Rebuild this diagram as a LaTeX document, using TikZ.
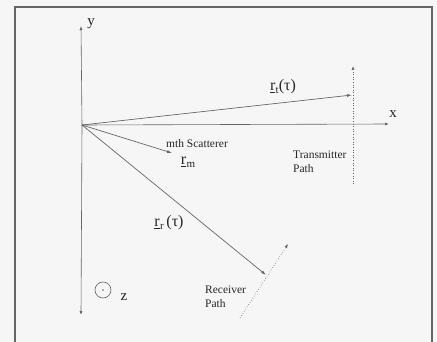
\documentclass[tikz,border=0pt]{standalone}
\usepackage{fontspec}
\setmainfont{Liberation Serif}
\usepackage{tikz}
\usetikzlibrary{arrows.meta, positioning}
\definecolor{scanBg}{HTML}{F5F6F5}
\definecolor{scanLine}{HTML}{666666}
\definecolor{scanInk}{HTML}{262626}
\newcommand{\rvec}[1]{\underline{r}\kern0.3pt\raisebox{-0.4ex}{\fontsize{11}{11}\selectfont #1}}

\begin{document}
\begin{tikzpicture}[
  x=1pt, y=-1pt,
  frame/.style={draw=scanLine, line width=1.2pt},
  axis/.style={draw=scanLine, line width=0.6pt, -{Latex[length=4pt,width=3pt]}},
  vec/.style={draw=scanLine, line width=0.7pt, -{Latex[length=5pt,width=3pt]}},
  trackpath/.style={draw=scanLine, line width=0.6pt, dotted, -{Latex[length=4pt,width=3pt]}},
  axlbl/.style={text=scanInk, font=\fontsize{15}{15}\selectfont, inner sep=0pt},
  veclbl/.style={text=scanInk, font=\fontsize{16}{16}\selectfont, inner sep=0pt},
  small/.style={text=scanInk, font=\fontsize{11.5}{14}\selectfont, align=left, inner sep=0pt}
]
  \useasboundingbox[fill=scanBg] (0,0) rectangle (437,342);
  \draw[frame] (15,342) -- (15,7) -- (432,7) -- (432,342);

  % axes
  \coordinate (o) at (82,125);
  \coordinate (ytop) at (81,26);
  \coordinate (ybot) at (81,315);
  \coordinate (xend) at (389,124);
  \draw[axis] (o) -- (ytop);
  \draw[axis] (o) -- (ybot);
  \draw[axis] (o) -- (xend);
  \node[axlbl] (ylbl) at (91,24) {y};
  \node[axlbl] (xlbl) at (393,114) {x};

  % z out of page
  \node[draw=scanLine, circle, minimum size=16pt, inner sep=0pt, line width=0.6pt] (zc) at (103,290) {};
  \fill[scanLine] (zc.center) circle (0.9pt);
  \node[axlbl, right=9pt of zc, yshift=-7pt] (zlbl) {z};

  % position vectors
  \coordinate (rt) at (352,95);
  \coordinate (rm) at (172,153);
  \coordinate (rr) at (266,275);
  \draw[vec] (o) -- (rt);
  \draw[vec] (o) -- (rm);
  \draw[vec] (o) -- (rr);
  \node[veclbl] (rtlbl) at (283,87) {\rvec{t}(τ)};
  \node[veclbl] (rrlbl) at (169,223) {\rvec{r}\,(τ)};
  \node[veclbl] (rmlbl) at (188,162) {\rvec{m}};
  \node[small, anchor=south west] (scat) at (166,148) {mth Scatterer};

  % platform paths
  \coordinate (ttop) at (353,66);
  \coordinate (tbot) at (353,184);
  \coordinate (rtop) at (288,244);
  \coordinate (rbot) at (240,318);
  \draw[trackpath] (tbot) -- (ttop);
  \draw[trackpath] (rbot) -- (rtop);
  \node[small, anchor=north west] (tpath) at (293,151) {Transmitter\\Path};
  \node[small, anchor=north west] (rpath) at (205,286) {Receiver\\Path};
\end{tikzpicture}
\end{document}
